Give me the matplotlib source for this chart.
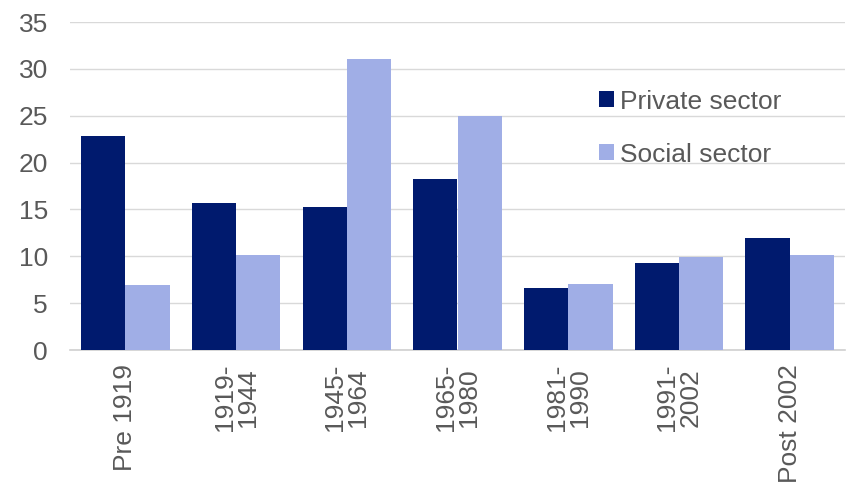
import numpy as np
import matplotlib.pyplot as plt

plt.rcParams['font.family'] = ['Liberation Sans', 'DejaVu Sans']

categories = ["Pre 1919", "1919-\n1944", "1945-\n1964", "1965-\n1980",
              "1981-\n1990", "1991-\n2002", "Post 2002"]
private_sector = [22.8, 15.7, 15.3, 18.2, 6.6, 9.3, 12.0]
social_sector = [6.9, 10.1, 31.0, 25.0, 7.0, 9.9, 10.1]

fig = plt.figure(figsize=(8.5, 4.86), dpi=100)
ax = fig.add_axes([70 / 850, 1 - 350 / 486, 775 / 850, 328 / 486])

x = np.arange(len(categories))
w = 0.4
ax.bar(x - w / 2, private_sector, w, color='#001A6E', label='Private sector', zorder=3)
ax.bar(x + w / 2, social_sector, w, color='#A0AEE6', label='Social sector', zorder=3)

ax.set_xlim(-0.5, len(categories) - 0.5)
ax.set_ylim(0, 35)
ax.set_yticks(range(0, 36, 5))
ax.grid(axis='y', color='#D9D9D9', linewidth=1, zorder=0)
for s in ['top', 'right', 'left']:
    ax.spines[s].set_visible(False)
ax.spines['bottom'].set_color('#D0D0D0')
ax.spines['bottom'].set_linewidth(1.2)
ax.tick_params(axis='both', length=0, labelsize=19, colors='#595959')
ax.tick_params(axis='y', pad=16)
ax.tick_params(axis='x', pad=10)
ax.set_xticks(x)
ax.set_xticklabels(categories, rotation=90, va='top', ha='center',
                   multialignment='center', linespacing=0.95)

ax.legend(loc='upper left', bbox_to_anchor=(0.652, 0.866), frameon=False,
          fontsize=19, labelcolor='#595959', handlelength=0.55, handleheight=0.55,
          handletextpad=0.25, labelspacing=1.1)

fig.savefig('out.png', dpi=100)
